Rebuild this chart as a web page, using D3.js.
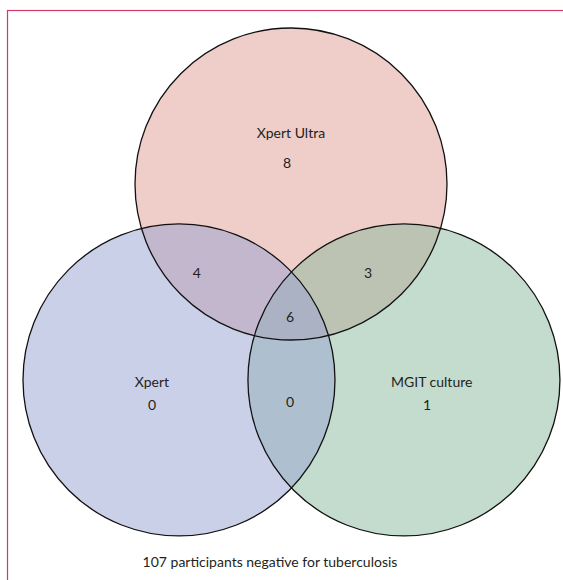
<!DOCTYPE html>
<html>
<head>
<meta charset="utf-8">
<script src="https://cdn.jsdelivr.net/npm/d3@7"></script>
<style>
  body { margin: 0; background: #fff; }
  svg text { font-family: Lato, "Liberation Sans", sans-serif; fill: #231f20; }
</style>
</head>
<body>
<svg id="chart"></svg>
<script>
// sets and region counts
const setNames = ['Xpert Ultra', 'Xpert', 'MGIT culture'];
const setColors = ['#df9b93', '#97a1d3', '#89b99b'];
// regions: which sets they belong to, count
const regionSets = [['Xpert Ultra'], ['Xpert'], ['MGIT culture'],
  ['Xpert Ultra', 'Xpert'], ['Xpert Ultra', 'MGIT culture'], ['Xpert', 'MGIT culture'],
  ['Xpert Ultra', 'Xpert', 'MGIT culture']];
const regionCounts = [8, 0, 1, 4, 3, 0, 6];
const footnote = '107 participants negative for tuberculosis';

let width = 563;
let height = 580;

let svg = d3.select('#chart')
  .attr('width', width)
  .attr('height', height);

// frame (cut off at right and bottom)
svg.append('rect')
  .attr('x', 7.5)
  .attr('y', 10.5)
  .attr('width', 600)
  .attr('height', 620)
  .attr('fill', 'none')
  .attr('stroke', '#d63a64')
  .attr('stroke-width', 1.2);

// layout in radius units, mapped to pixels (origin = top circle centre)
let x = d3.scaleLinear().domain([-1, 1]).range([135, 447]);
let y = d3.scaleLinear().domain([-1, 1]).range([28, 340]);
let r = x(1) - x(0);
let layout = {
  'Xpert Ultra':  [0, 0],
  'Xpert':        [-0.718, 1.256],
  'MGIT culture': [0.724, 1.256]
};

// draw order: top, right, left
let order = ['Xpert Ultra', 'MGIT culture', 'Xpert'];
svg.append('g').selectAll('circle.fill')
  .data(order)
  .enter().append('circle')
  .attr('class', 'fill')
  .attr('cx', (d) => x(layout[d][0]))
  .attr('cy', (d) => y(layout[d][1]))
  .attr('r', r)
  .attr('fill', (d) => setColors[setNames.indexOf(d)])
  .attr('fill-opacity', 0.5);

svg.append('g').selectAll('circle.outline')
  .data(order)
  .enter().append('circle')
  .attr('cx', (d) => x(layout[d][0]))
  .attr('cy', (d) => y(layout[d][1]))
  .attr('r', r)
  .attr('fill', 'none')
  .attr('stroke', '#111')
  .attr('stroke-width', 1.3);

// label anchors for each region (radius units)
let regionPos = [
  [-0.026, -0.135], [-0.891, 1.417], [0.872, 1.417],
  [-0.603, 0.571], [0.494, 0.571], [-0.006, 1.397], [-0.006, 0.853]
];
let nameShift = [[0.026, -30], [0, -23], [0.03, -23]];

let labels = svg.append('g').attr('font-size', 14);
labels.selectAll('text.count')
  .data(regionCounts)
  .enter().append('text')
  .attr('text-anchor', 'middle')
  .attr('x', (d, i) => x(regionPos[i][0]))
  .attr('y', (d, i) => y(regionPos[i][1]))
  .attr('dy', '0.35em')
  .text((d) => d);

// set names above their "only" counts
labels.selectAll('text.name')
  .data(setNames)
  .enter().append('text')
  .attr('text-anchor', 'middle')
  .attr('x', (d, i) => x(regionPos[i][0] + nameShift[i][0]))
  .attr('y', (d, i) => y(regionPos[i][1]) + nameShift[i][1])
  .attr('dy', '0.35em')
  .text((d) => d);

svg.append('text')
  .attr('x', 270)
  .attr('y', 562)
  .attr('dy', '0.35em')
  .attr('text-anchor', 'middle')
  .attr('font-size', 14)
  .text(footnote);
</script>
</body>
</html>
